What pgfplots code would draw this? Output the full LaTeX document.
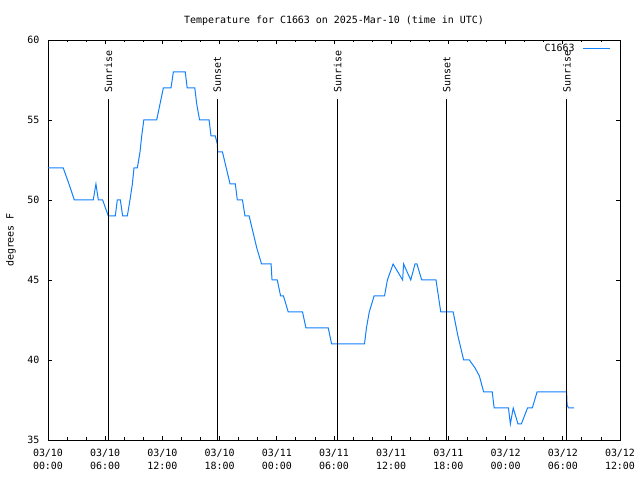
\documentclass[border=0pt]{standalone}
\usepackage{pgfplots}
\pgfplotsset{compat=1.18}
\usepackage{fontspec}
\setmainfont{DejaVu Sans Mono}
\definecolor{tline}{RGB}{16,128,255}
\pgfplotsset{mylegend/.style={legend image code/.code={\draw[##1] (0bp,0bp) -- (27bp,0bp);}}}
\begin{document}
\begin{tikzpicture}[font=\fontsize{10}{13}\selectfont]
\begin{axis}[
  scale only axis, width=572bp, height=400bp,
  xmin=0, xmax=60, ymin=35, ymax=60,
  xtick={0,6,...,60},
  xticklabels={03/10\\00:00,03/10\\06:00,03/10\\12:00,03/10\\18:00,03/11\\00:00,03/11\\06:00,03/11\\12:00,03/11\\18:00,03/12\\00:00,03/12\\06:00,03/12\\12:00},
  xticklabel style={align=center, yshift=-6bp},
  yticklabel style={xshift=-5bp},
  minor xtick={0,2,...,60},
  ytick={35,40,...,60},
  tick align=inside, major tick length=4bp, minor tick length=2.5bp,
  tick style={black, line width=0.8bp},
  axis line style={line width=0.8bp},
  /pgf/number format/assume math mode=true,
  ylabel={degrees F},
  ylabel style={yshift=5bp},
  title={Temperature for C1663 on 2025-Mar-10 (time in UTC)},
  title style={yshift=5bp},
  legend style={draw=none, fill=none, at={(0.984,0.995)}, anchor=north east, inner sep=0pt, column sep=6bp},
  legend cell align=right,
  legend plot pos=right,
]
\coordinate (sw) at (rel axis cs:0,0);
\addplot[tline, line width=1bp, mylegend] coordinates {
(0,52) (1.6,52) (2.2,51) (2.76,50) (4.75,50) (5.03,51) (5.28,50) (5.73,50) (6.33,49)
(7.06,49) (7.27,50) (7.59,50) (7.83,49) (8.32,49) (8.6,50) (8.85,51) (9.02,52) (9.37,52)
(9.65,53) (9.83,54) (10.05,55) (11.4,55) (11.75,56) (12.1,57) (12.9,57) (13.15,58)
(14.4,58) (14.6,57) (15.4,57) (15.6,56) (15.9,55) (16.9,55) (17.1,54) (17.55,54)
(17.76,53.5) (17.8,53) (18.3,53) (18.7,52) (19.1,51) (19.65,51) (19.86,50) (20.4,50)
(20.66,49) (21.1,49) (21.5,48) (21.9,47) (22.4,46) (23.4,46) (23.5,45) (24.05,45)
(24.4,44) (24.7,44) (25.2,43) (26.7,43) (27.06,42) (29.4,42) (29.75,41) (33.2,41)
(33.4,42) (33.7,43) (34.2,44) (35.3,44) (35.6,45) (36.2,46) (37.2,45) (37.3,46)
(38.05,45) (38.5,46) (38.7,46) (39.2,45) (40.7,45) (41.2,43) (42.5,43) (43.0,41.5)
(43.6,40) (44.2,40) (44.8,39.5) (45.25,39) (45.7,38) (46.6,38) (46.8,37) (48.3,37)
(48.5,36) (48.8,37) (49.3,36) (49.65,36) (50.3,37) (50.8,37) (51.3,38) (54.4,38)
(54.45,37.2) (54.6,37) (55.2,37)
};
\addlegendentry{C1663}
\addplot[black, line width=0.8bp, forget plot] coordinates {(6.33,35) (6.33,56.31)};
\addplot[black, line width=0.8bp, forget plot] coordinates {(17.76,35) (17.76,56.31)};
\addplot[black, line width=0.8bp, forget plot] coordinates {(30.38,35) (30.38,56.31)};
\addplot[black, line width=0.8bp, forget plot] coordinates {(41.82,35) (41.82,56.31)};
\addplot[black, line width=0.8bp, forget plot] coordinates {(54.42,35) (54.42,56.31)};
\node[rotate=90, anchor=west, inner sep=0pt] at (axis cs:6.33,56.7) {Sunrise};
\node[rotate=90, anchor=west, inner sep=0pt] at (axis cs:17.76,56.7) {Sunset};
\node[rotate=90, anchor=west, inner sep=0pt] at (axis cs:30.38,56.7) {Sunrise};
\node[rotate=90, anchor=west, inner sep=0pt] at (axis cs:41.82,56.7) {Sunset};
\node[rotate=90, anchor=west, inner sep=0pt] at (axis cs:54.42,56.7) {Sunrise};
\end{axis}
\path (sw) ++(-48bp,-40bp) rectangle ++(640bp,480bp);
\end{tikzpicture}
\end{document}
